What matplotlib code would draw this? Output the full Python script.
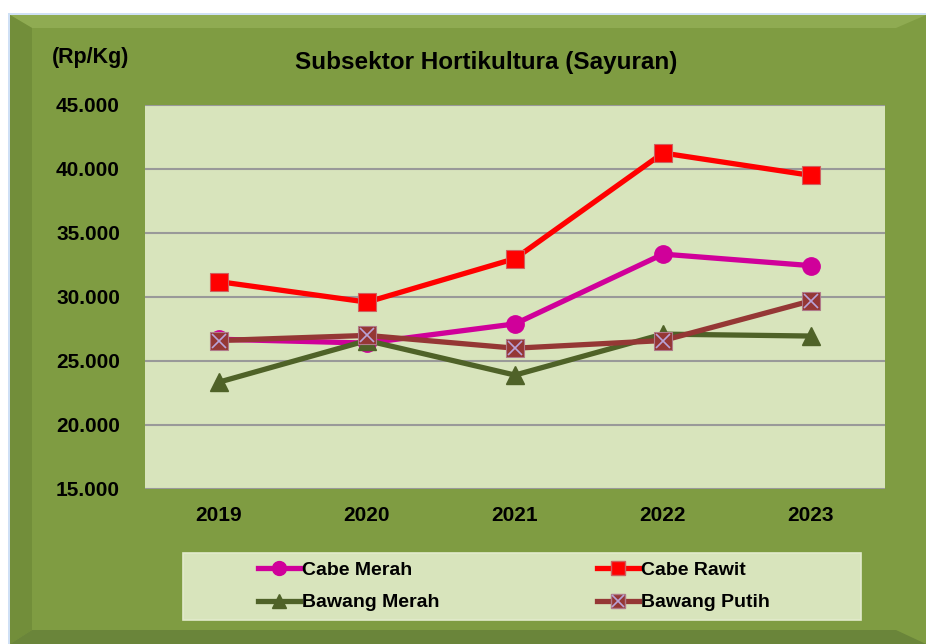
import matplotlib.pyplot as plt
from matplotlib.patches import Rectangle, Polygon
from matplotlib.legend_handler import HandlerTuple
from matplotlib.lines import Line2D
from matplotlib.ticker import FuncFormatter

plt.rcParams['font.family'] = ['Liberation Sans', 'DejaVu Sans']

years = ['2019', '2020', '2021', '2022', '2023']
cabe_merah = [26700, 26400, 27900, 33350, 32450]
cabe_rawit = [31200, 29600, 33000, 41250, 39500]
bawang_merah = [23350, 26600, 23900, 27100, 26950]
bawang_putih = [26600, 27000, 26000, 26600, 29700]

W, H = 926, 644
fig = plt.figure(figsize=(W / 100, H / 100), dpi=100)
fig.patch.set_facecolor('white')

def px(x, y):
    # pixel coords (top-left origin) -> figure fraction
    return x / W, 1 - y / H

def bg(patch):
    patch.set_transform(fig.transFigure)
    patch.set_zorder(-10)
    fig.patches.append(patch)

# outer green frame with a rough bevel
bg(Rectangle(px(8, 644), (W - 8) / W, (644 - 13) / H, facecolor='#cfe0f5', edgecolor='none'))
bg(Rectangle(px(10, 644), (W - 10) / W, (644 - 15) / H, facecolor='#7f9c42', edgecolor='none'))
bg(Polygon([px(10, 15), px(W, 15), px(W - 30, 28), px(32, 28)], closed=True, facecolor='#8fab52', edgecolor='none'))
bg(Polygon([px(10, 15), px(32, 28), px(32, 630), px(10, 644)], closed=True, facecolor='#728e3a', edgecolor='none'))
bg(Polygon([px(10, 644), px(32, 630), px(W - 30, 630), px(W, 644)], closed=True, facecolor='#6a853a', edgecolor='none'))
bg(Rectangle(px(32, 630), (W - 62) / W, (630 - 28) / H, facecolor='#7f9c42', edgecolor='none'))
# legend box
bg(Rectangle(px(183, 620), (861 - 183) / W, (620 - 553) / H, facecolor='#d8e4bc', edgecolor='#e2ebcc', lw=1.2))

l, b = px(145, 489)
r, t = px(885, 105)
ax = fig.add_axes([l, b, r - l, t - b])
ax.set_facecolor('#d8e4bc')
x = list(range(len(years)))

lw = 3.8
ax.plot(x, cabe_merah, color='#d0009a', lw=lw, marker='o', ms=12.5, mfc='#d0009a', mec='#d0009a', zorder=3)
ax.plot(x, cabe_rawit, color='#ff0000', lw=lw, marker='s', ms=12.5, mfc='#ff0000', mec='#d06060', mew=0.8, zorder=3)
ax.plot(x, bawang_merah, color='#4f6228', lw=lw, marker='^', ms=13.5, mfc='#4f6228', mec='#4f6228', zorder=3)
ax.plot(x, bawang_putih, color='#953735', lw=lw, marker='s', ms=12.5, mfc='#953735', mec='#b07a8a', mew=0.8, zorder=4)
ax.plot(x, bawang_putih, ls='none', marker='x', ms=10.5, mec='#b9a3d8', mew=1.2, zorder=5)

ax.set_xlim(-0.5, 4.5)
ax.set_ylim(15000, 45000)
ax.set_yticks(range(15000, 45001, 5000))
ax.yaxis.set_major_formatter(FuncFormatter(lambda v, p: f'{int(v):,}'.replace(',', '.')))
ax.set_xticks(x)
ax.set_xticklabels(years)
ax.grid(axis='y', color='#999999', lw=1.5)
ax.set_axisbelow(True)
for s in ax.spines.values():
    s.set_visible(False)
ax.tick_params(length=0, labelsize=15, pad=12)
ax.tick_params(axis='y', pad=18)
for lab in ax.get_xticklabels() + ax.get_yticklabels():
    lab.set_fontweight('bold')

fig.text(*px(486, 62), 'Subsektor Hortikultura (Sayuran)', ha='center', va='center',
         fontsize=17.5, fontweight='bold')
fig.text(*px(91, 57), '(Rp/Kg)', ha='center', va='center', fontsize=15.5, fontweight='bold')

h1 = Line2D([], [], color='#d0009a', lw=lw, marker='o', ms=10, mfc='#d0009a', mec='#d0009a')
h2 = Line2D([], [], color='#ff0000', lw=lw, marker='s', ms=10, mfc='#ff0000', mec='#d06060')
h3 = Line2D([], [], color='#4f6228', lw=lw, marker='^', ms=10, mfc='#4f6228', mec='#4f6228')
h4a = Line2D([], [], color='#953735', lw=lw, marker='s', ms=10, mfc='#953735', mec='#b07a8a')
h4b = Line2D([], [], ls='none', marker='x', ms=8, mec='#b9a3d8', mew=1.2)
ll, lb = px(258, 620)
lr, lt = px(770, 553)
leg = fig.legend([h1, h3, h2, (h4a, h4b)], ['Cabe Merah', 'Bawang Merah', 'Cabe Rawit', 'Bawang Putih'],
                 ncol=2, loc='center', bbox_to_anchor=(ll, lb, lr - ll, lt - lb), mode='expand',
                 prop={'weight': 'bold', 'size': 14}, handlelength=2.15, handletextpad=0.1,
                 frameon=False, borderpad=0, borderaxespad=0, labelspacing=0.75,
                 handler_map={tuple: HandlerTuple(ndivide=1, pad=0)})

fig.savefig('out.png', dpi=100, facecolor=fig.get_facecolor())
